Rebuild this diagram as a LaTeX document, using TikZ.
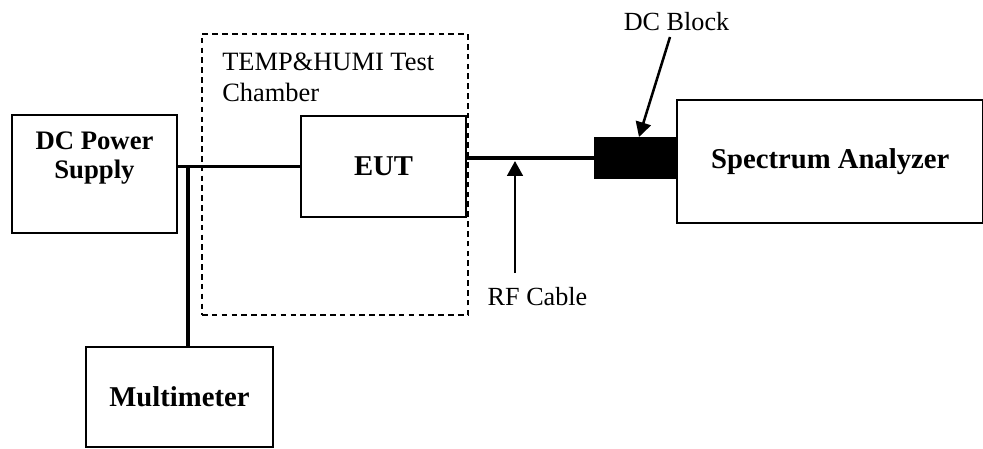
\documentclass[tikz,border=0pt]{standalone}
\usepackage{fontspec}
\setmainfont{Liberation Serif}
\usetikzlibrary{positioning, arrows.meta}
\definecolor{clrborder}{HTML}{000000}
\definecolor{clrtext}{HTML}{000000}

\begin{document}
\begin{tikzpicture}[
    x=0.025cm, y=-0.025cm,
    >={Triangle[length=10.5pt, width=11pt]},
    box/.style={draw=clrborder, line width=1.7pt, inner sep=0pt,
                font=\fontsize{20.4}{24}\selectfont\bfseries, text=clrtext},
    chamber/.style={draw=clrborder, dashed, dash pattern=on 4pt off 3pt, line width=1.2pt},
    wire/.style={color=clrborder, line width=2.3pt},
    arrow/.style={->, color=clrborder, line width=1.8pt},
    label/.style={font=\fontsize{18.6}{22}\selectfont, text=clrtext, inner sep=0pt},
]
\useasboundingbox (0,0) rectangle (983,448);
\node[chamber, minimum width=6.65cm, minimum height=7.025cm] (chamber) at (335,174.5) {};
\node[box, minimum width=4.125cm, minimum height=2.95cm] (psu) at (94.5,174) {};
\node[label, font=\fontsize{19}{20.6}\selectfont\bfseries, align=center] (psu_txt) at (94.5,158.5) {DC Power\\Supply};
\node[box, minimum width=4.675cm, minimum height=2.5cm] (mm) at (179.5,397) {Multimeter};
\node[box, minimum width=4.125cm, minimum height=2.525cm] (eut) at (383.5,166.5) {EUT};
\node[box, fill=clrborder, minimum width=2.025cm, minimum height=1.0cm] (blk) at (635.5,158) {};
\node[box, minimum width=7.65cm, minimum height=3.075cm, anchor=west] (sa) at (676,161.5) {\raisebox{4pt}{Spectrum Analyzer}};
\node[label, align=left, anchor=west, font=\fontsize{18.8}{22}\selectfont] (chamber_txt) at (222,77.5) {TEMP\&HUMI Test\\Chamber};
\node[label, anchor=base] (rf_txt) at (537.5,305) {RF Cable};
\node[label, anchor=base] (blk_txt) at (676.5,30) {DC Block};
\coordinate (tap) at (188,166.5);
\coordinate (rf_tail) at (515,273);
\coordinate (rf_head) at (515,161);
\coordinate (blk_tail) at (670,37);
\coordinate (blk_head) at (639,137);
\draw[wire] (psu.east |- eut.west) -- (eut.west);
\draw[wire] (tap) -- (tap |- mm.north);
\draw[wire] (eut.east |- blk.west) -- (blk.west);
\draw[arrow] (rf_tail) -- (rf_head);
\draw[arrow] (blk_tail) -- (blk_head);
\end{tikzpicture}
\end{document}
